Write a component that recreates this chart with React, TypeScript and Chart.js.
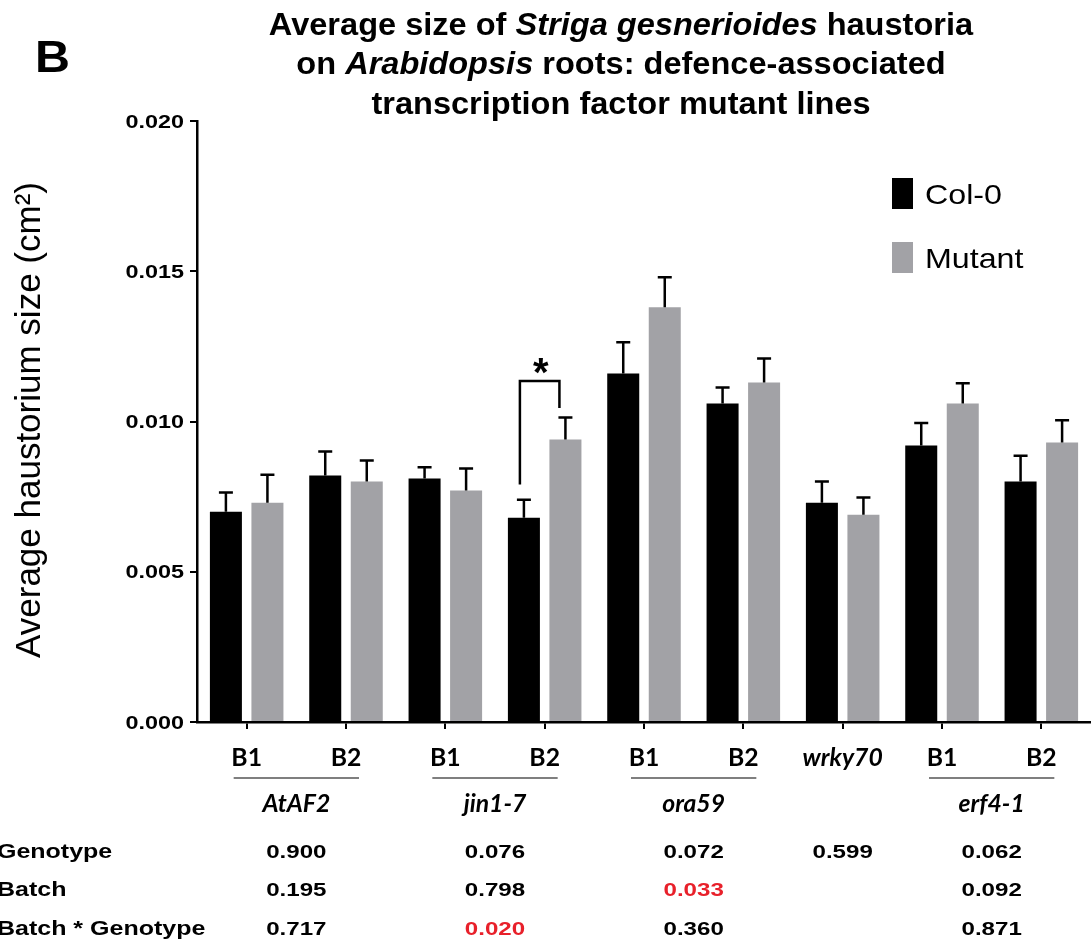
import React, { useEffect, useRef } from "react";
import { Chart, registerables } from "chart.js";

Chart.register(...registerables);

const categories = ["B1", "B2", "B1", "B2", "B1", "B2", "wrky70", "B1", "B2"];
const col0Values = [0.0070, 0.0082, 0.0081, 0.0068, 0.0116, 0.0106, 0.0073, 0.0092, 0.0080];
const col0Errors = [0.00064, 0.0008, 0.00038, 0.0006, 0.00104, 0.00053, 0.0007, 0.00075, 0.00086];
const mutantValues = [0.0073, 0.0080, 0.0077, 0.0094, 0.0138, 0.0113, 0.0069, 0.0106, 0.0093];
const mutantErrors = [0.00093, 0.0007, 0.00074, 0.00073, 0.001, 0.0008, 0.00057, 0.00067, 0.00074];
const yTicks = [0, 0.005, 0.01, 0.015, 0.02];

const geneNames = ["AtAF2", "jin1-7", "ora59", "wrky70", "erf4-1"];
const geneStart = [0, 2, 4, 6, 7];
const geneEnd = [1, 3, 5, 6, 8];

const rowLabels = ["Genotype", "Batch", "Batch * Genotype"];
const genotypeP = ["0.900", "0.076", "0.072", "0.599", "0.062"];
const batchP = ["0.195", "0.798", "0.033", "", "0.092"];
const interactionP = ["0.717", "0.020", "0.360", "", "0.871"];
const significantP = ["0.033", "0.020"];

// significance bracket (jin1-7 B2): category index and y values
const bracketCategory = 3;
const bracketTop = 0.01135;
const bracketLeftBottom = 0.0079;
const bracketRightBottom = 0.01045;

const SANS = '"Liberation Sans", Arial, sans-serif';
const CAL = 'Lato, "Open Sans", sans-serif';

function drawText(ctx, text, x, y, font, align, sx, color = "#000") {
  ctx.save();
  ctx.font = font;
  ctx.fillStyle = color;
  ctx.textAlign = "left";
  ctx.textBaseline = "alphabetic";
  const w = ctx.measureText(text).width * sx;
  const left = align === "center" ? x - w / 2 : align === "right" ? x - w : x;
  ctx.translate(left, y);
  ctx.scale(sx, 1);
  ctx.fillText(text, 0, 0);
  ctx.restore();
}

function drawSegments(ctx, segs, cx, y, size, sx) {
  ctx.save();
  const fonts = segs.map(([, it]) => `${it ? "italic " : ""}bold ${size}px ${SANS}`);
  let total = 0;
  const widths = segs.map(([t], i) => {
    ctx.font = fonts[i];
    const w = ctx.measureText(t).width * sx;
    total += w;
    return w;
  });
  let x = cx - total / 2;
  segs.forEach(([t], i) => {
    drawText(ctx, t, x, y, fonts[i], "left", sx);
    x += widths[i];
  });
  ctx.restore();
}

const titleLines = [
  [["Average size of ", false], ["Striga gesnerioides", true], [" haustoria", false]],
  [["on ", false], ["Arabidopsis", true], [" roots: defence-associated", false]],
  [["transcription factor mutant lines", false]],
];

const decorPlugin = {
  id: "decor",
  afterDatasetsDraw(chart) {
    const ctx = chart.ctx;
    const y = chart.scales.y;
    const errs = [col0Errors, mutantErrors];
    ctx.save();
    ctx.strokeStyle = "#000";
    ctx.lineWidth = 2.5;
    chart.data.datasets.forEach((ds, di) => {
      const meta = chart.getDatasetMeta(di);
      meta.data.forEach((bar, i) => {
        const v = ds.data[i];
        const top = y.getPixelForValue(v + errs[di][i]);
        ctx.beginPath();
        ctx.moveTo(bar.x, bar.y);
        ctx.lineTo(bar.x, top);
        ctx.moveTo(bar.x - 7, top);
        ctx.lineTo(bar.x + 7, top);
        ctx.stroke();
      });
    });
    // significance bracket
    const b0 = chart.getDatasetMeta(0).data[bracketCategory];
    const b1 = chart.getDatasetMeta(1).data[bracketCategory];
    const lx = b0.x - 4;
    const rx = b1.x - 6;
    ctx.beginPath();
    ctx.moveTo(lx, y.getPixelForValue(bracketLeftBottom));
    ctx.lineTo(lx, y.getPixelForValue(bracketTop));
    ctx.lineTo(rx, y.getPixelForValue(bracketTop));
    ctx.lineTo(rx, y.getPixelForValue(bracketRightBottom));
    ctx.stroke();
    ctx.restore();
    drawText(ctx, "*", (lx + rx) / 2 + 1, y.getPixelForValue(bracketTop) + 5, `bold 40px ${SANS}`, "center", 1);
  },
  afterDraw(chart) {
    const ctx = chart.ctx;
    const x = chart.scales.x;
    const y = chart.scales.y;
    // panel letter
    drawText(ctx, "B", 35, 72, `bold 44px ${SANS}`, "left", 1.1);
    // title
    const baselines = [35, 74, 114];
    titleLines.forEach((segs, i) => drawSegments(ctx, segs, 621, baselines[i], 31, 1.05));
    // y axis title
    ctx.save();
    ctx.translate(40, 420);
    ctx.rotate(-Math.PI / 2);
    ctx.font = `35px ${SANS}`;
    ctx.fillStyle = "#000";
    ctx.textAlign = "center";
    ctx.fillText("Average haustorium size (cm\u00B2)", 0, 0);
    ctx.restore();
    // y tick labels
    yTicks.forEach((t) => {
      const py = y.getPixelForValue(t);
      drawText(ctx, t.toFixed(3), 184, py + 6.5, `bold 18px ${SANS}`, "right", 1.3);
    });
    // x category labels
    categories.forEach((c, i) => {
      const px = x.getPixelForValue(i);
      const italic = c.indexOf("B") !== 0;
      drawText(ctx, c, px, 766, `${italic ? "italic " : ""}bold 24px ${CAL}`, "center", 1.03);
    });
    // gene group lines and names
    const colX = [];
    geneNames.forEach((g, gi) => {
      const a = x.getPixelForValue(geneStart[gi]);
      const b = x.getPixelForValue(geneEnd[gi]);
      const cx = (a + b) / 2;
      colX.push(cx);
      if (geneStart[gi] !== geneEnd[gi]) {
        ctx.save();
        ctx.strokeStyle = "#555";
        ctx.lineWidth = 1.5;
        ctx.beginPath();
        ctx.moveTo(a - 13, 778);
        ctx.lineTo(b + 13, 778);
        ctx.stroke();
        ctx.restore();
        drawText(ctx, g, cx, 812, `italic bold 24px ${CAL}`, "center", 1.03);
      }
    });
    // table
    const rows = [genotypeP, batchP, interactionP];
    const rowY = [858, 896, 935];
    rowLabels.forEach((lab, ri) => {
      drawText(ctx, lab, -3, rowY[ri], `bold 21px ${SANS}`, "left", 1.19);
      rows[ri].forEach((v, ci) => {
        if (!v) return;
        const red = significantP.includes(v) && ri > 0;
        drawText(ctx, v, colX[ci], rowY[ri], `bold 19px ${SANS}`, "center", 1.27, red ? "#e8202a" : "#000");
      });
    });
    // legend
    const legend = [
      ["Col-0", "#000000", 178, 204],
      ["Mutant", "#a2a2a6", 242, 268],
    ];
    legend.forEach(([label, color, top, base]) => {
      ctx.fillStyle = color;
      ctx.fillRect(892, top, 21, 31);
      drawText(ctx, label, 925, base, `28px ${SANS}`, "left", 1.15);
    });
  },
};

export default function App() {
  const ref = useRef(null);
  useEffect(() => {
    const chart = new Chart(ref.current, {
      type: "bar",
      data: {
        labels: categories,
        datasets: [
          {
            label: "Col-0",
            data: col0Values,
            backgroundColor: "#000000",
            categoryPercentage: 0.836,
            barPercentage: 0.771,
          },
          {
            label: "Mutant",
            data: mutantValues,
            backgroundColor: "#a2a2a6",
            categoryPercentage: 0.836,
            barPercentage: 0.771,
          },
        ],
      },
      options: {
        animation: false,
        responsive: false,
        devicePixelRatio: 1,
        layout: { padding: { top: 121, left: 0, right: 0, bottom: 0 } },
        plugins: { legend: { display: false }, tooltip: { enabled: false }, title: { display: false } },
        scales: {
          x: {
            offset: true,
            grid: { display: true, drawOnChartArea: false, drawTicks: true, tickLength: 7, offset: false, color: "#000", lineWidth: 2 },
            border: { display: true, color: "#000", width: 2.5 },
            ticks: { display: false },
            afterFit: (s) => {
              s.height = 224;
            },
          },
          y: {
            min: 0,
            max: 0.02,
            ticks: { display: false, stepSize: 0.005 },
            grid: { display: true, drawOnChartArea: false, drawTicks: true, tickLength: 7, color: "#000", lineWidth: 2 },
            border: { display: true, color: "#000", width: 2.5 },
            afterFit: (s) => {
              s.width = 197;
            },
          },
        },
      },
      plugins: [decorPlugin],
    });
    return () => chart.destroy();
  }, []);
  return (
    <div style={{ position: "absolute", left: 0, top: 0, width: 1091, height: 946 }}>
      <canvas ref={ref} width={1091} height={946} />
    </div>
  );
}
